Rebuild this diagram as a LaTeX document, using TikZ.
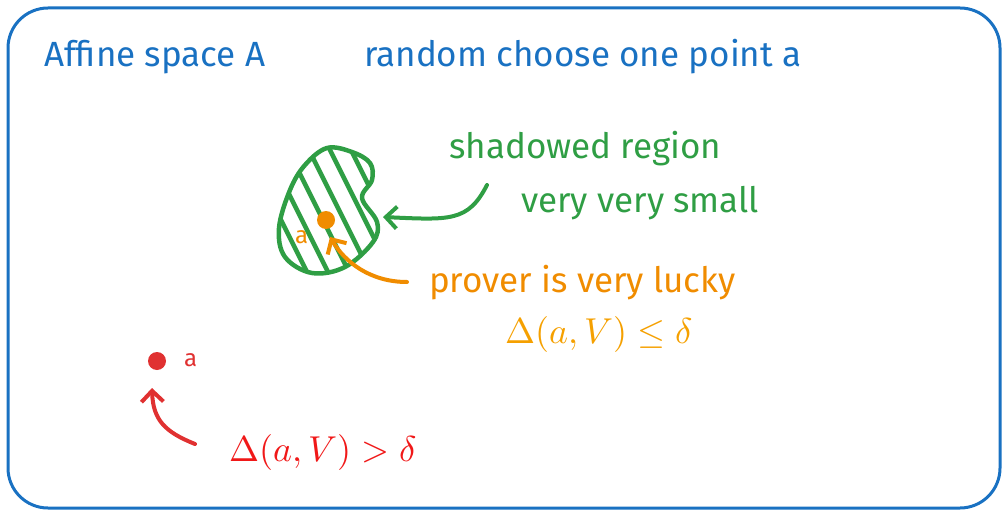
\documentclass[tikz,border=0pt]{standalone}
\usepackage{fontspec}
\setmainfont{Fira Sans}
\usetikzlibrary{arrows.meta}
\definecolor{cblue}{HTML}{1971C2}
\definecolor{cgreen}{HTML}{2F9E44}
\definecolor{corange}{HTML}{F08C00}
\definecolor{cyellow}{HTML}{F5A000}
\definecolor{cred}{HTML}{E03131}
\definecolor{mred}{HTML}{F01818}
\tikzset{
  lbl/.style={font=\fontsize{35}{38}\selectfont, inner sep=0pt, anchor=base west},
  small/.style={font=\fontsize{24}{26}\selectfont, inner sep=0pt, anchor=base west},
  mth/.style={inner sep=0pt, anchor=base west},
  arr/.style={line width=4pt, line cap=round, -{Straight Barb[length=11pt,width=22pt,line width=4pt]}},
  dot/.style={circle, inner sep=0pt, minimum size=18pt},
}
\begin{document}
\begin{tikzpicture}[x=1pt,y=-1pt]
\useasboundingbox (0,0) rectangle (1008,513);
\draw[cblue, line width=3pt, rounded corners=40pt] (8,8) rectangle (1000,508);

\node[lbl, text=cblue] (aff) at (44,67) {Affine space A};
\node[lbl, text=cblue] (rnd) at (364,67) {random choose one point a};
\node[lbl, text=cgreen] (shd) at (449,159) {shadowed region};
\node[lbl, text=cgreen] (vvs) at (521,212) {very very small};
\node[lbl, text=corange] (prv) at (429,292) {prover is very lucky};
\node[mth, text=cyellow] (leq) at (505,343) {\scalebox{3.6}{$\Delta(a,V)\leq\delta$}};
\node[mth, text=mred] (gt) at (229,461) {\scalebox{3.6}{$\Delta(a,V)>\delta$}};

% green blob
\def\blob{plot[smooth cycle, tension=0.6] coordinates {(327,148) (352,152) (370,163) (372,180) (362,198) (377,222) (373,242) (345,267) (312,273) (285,257) (279,228) (290,190) (305,165)}}
\begin{scope}
  \clip \blob;
  \foreach \i in {-6,...,8}
    \draw[cgreen, line width=4.5pt] (200+\i*21,100) -- ++(110,220);
\end{scope}
\draw[cgreen, line width=4.5pt, line join=round] \blob;

% orange point
\node[dot, fill=corange] (od) at (326,220) {};
\node[small, text=corange] (oa) at (295,243) {a};

% red point
\node[dot, fill=cred] (rd) at (157,361) {};
\node[small, text=cred] (ra) at (184,366) {a};

% arrows
\coordinate (gs) at (487,185);
\coordinate (gt1) at (383,217);
\draw[arr, cgreen] (gs) .. controls (468,222) and (450,220) .. (gt1);
\coordinate (os) at (407,282);
\coordinate (ot) at (330,237);
\draw[arr, corange] (os) .. controls (370,282) and (345,262) .. (ot);
\coordinate (rs) at (195,444);
\coordinate (rt) at (152,388);
\draw[arr, cred] (rs) .. controls (165,432) and (153,420) .. (rt);
\end{tikzpicture}
\end{document}
